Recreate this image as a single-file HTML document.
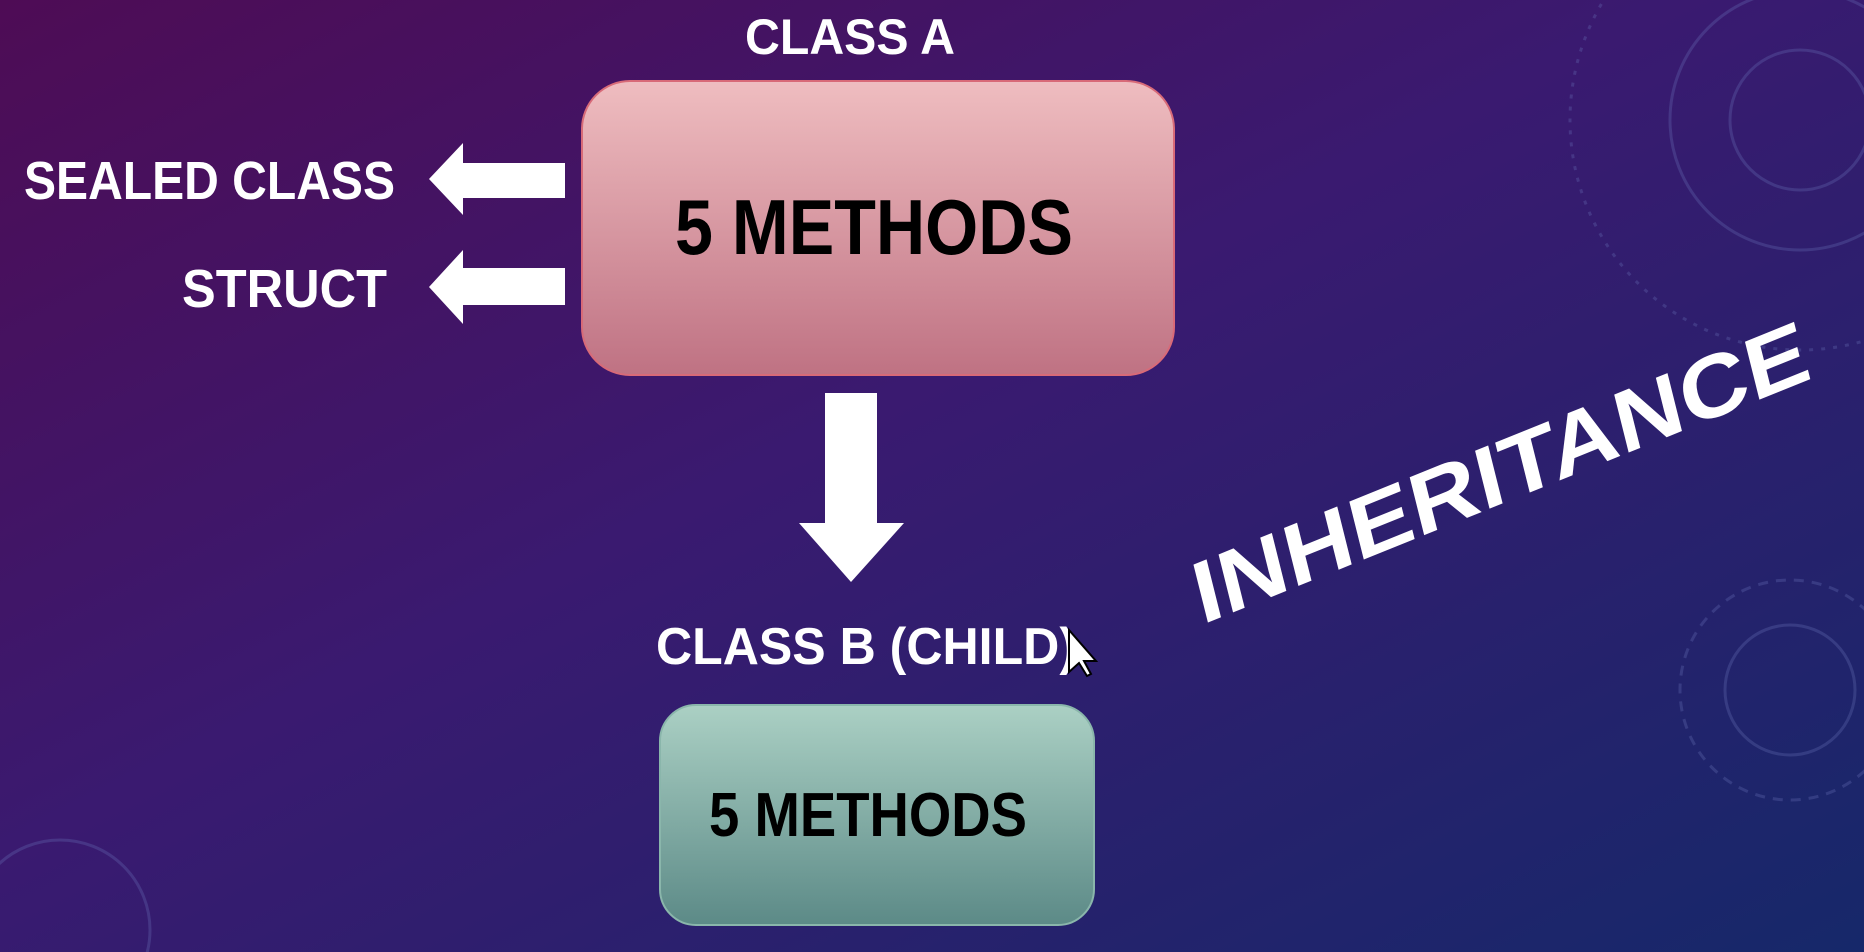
<!DOCTYPE html>
<html><head><meta charset="utf-8"><style>
html,body{margin:0;padding:0;width:1864px;height:952px;overflow:hidden;background:#2a1a66}
svg{display:block;position:absolute;left:0;top:0}
text{font-family:"Liberation Sans",sans-serif;font-weight:bold}
</style></head><body>
<svg width="1864" height="952" viewBox="0 0 1864 952" xmlns="http://www.w3.org/2000/svg">
<defs>
<linearGradient id="bg" x1="0" y1="0" x2="1" y2="1">
<stop offset="0" stop-color="#4e0c55"/>
<stop offset="0.45" stop-color="#3a1a70"/>
<stop offset="1" stop-color="#16286a"/>
</linearGradient>
<linearGradient id="pink" x1="0" y1="0" x2="0" y2="1">
<stop offset="0" stop-color="#efbdc0"/>
<stop offset="1" stop-color="#bf7283"/>
</linearGradient>
<linearGradient id="green" x1="0" y1="0" x2="0" y2="1">
<stop offset="0" stop-color="#abd0c4"/>
<stop offset="1" stop-color="#5c8a87"/>
</linearGradient>
</defs>
<rect width="1864" height="952" fill="url(#bg)"/>
<g fill="none" stroke="#6a74b8" stroke-opacity="0.3" stroke-width="3">
<circle cx="1800" cy="120" r="70"/>
<circle cx="1800" cy="120" r="130"/>
<circle cx="1800" cy="120" r="230" stroke-dasharray="4 8"/>
<circle cx="1790" cy="690" r="65"/>
<circle cx="1790" cy="690" r="110" stroke-dasharray="10 8"/>
<circle cx="60" cy="930" r="90"/>
</g>
<text x="850" y="54" fill="#fff" font-size="50" text-anchor="middle" textLength="210" lengthAdjust="spacingAndGlyphs">CLASS A</text>
<rect x="582" y="81" width="592" height="294" rx="48" fill="url(#pink)" stroke="#d86a78" stroke-width="2"/>
<text x="874" y="254" fill="#000" font-size="78" text-anchor="middle" textLength="398" lengthAdjust="spacingAndGlyphs">5 METHODS</text>
<text x="24" y="199" fill="#fff" font-size="54" textLength="371" lengthAdjust="spacingAndGlyphs">SEALED CLASS</text>
<text x="182" y="307" fill="#fff" font-size="54" textLength="205" lengthAdjust="spacingAndGlyphs">STRUCT</text>
<polygon points="429,179 463,143 463,163 565,163 565,198 463,198 463,215" fill="#fff"/>
<polygon points="429,287 463,250 463,268 565,268 565,305 463,305 463,324" fill="#fff"/>
<polygon points="825,393 877,393 877,523 904,523 851,582 799,523 825,523" fill="#fff"/>
<text x="656" y="664" fill="#fff" font-size="52" textLength="420" lengthAdjust="spacingAndGlyphs">CLASS B (CHILD)</text>
<polygon points="1069,630 1069,672 1079,663 1087,676 1091,674 1084,661 1096,661" fill="#fff" stroke="#000" stroke-width="2"/>
<rect x="660" y="705" width="434" height="220" rx="36" fill="url(#green)" stroke="#8ab6ab" stroke-width="2"/>
<text x="868" y="836" fill="#000" font-size="62" text-anchor="middle" textLength="318" lengthAdjust="spacingAndGlyphs">5 METHODS</text>
<g transform="translate(1500,470) rotate(-22) skewX(-8)">
<text x="0" y="32" fill="#fff" font-size="86" text-anchor="middle" textLength="660" lengthAdjust="spacingAndGlyphs">INHERITANCE</text>
</g>
</svg>
</body></html>
